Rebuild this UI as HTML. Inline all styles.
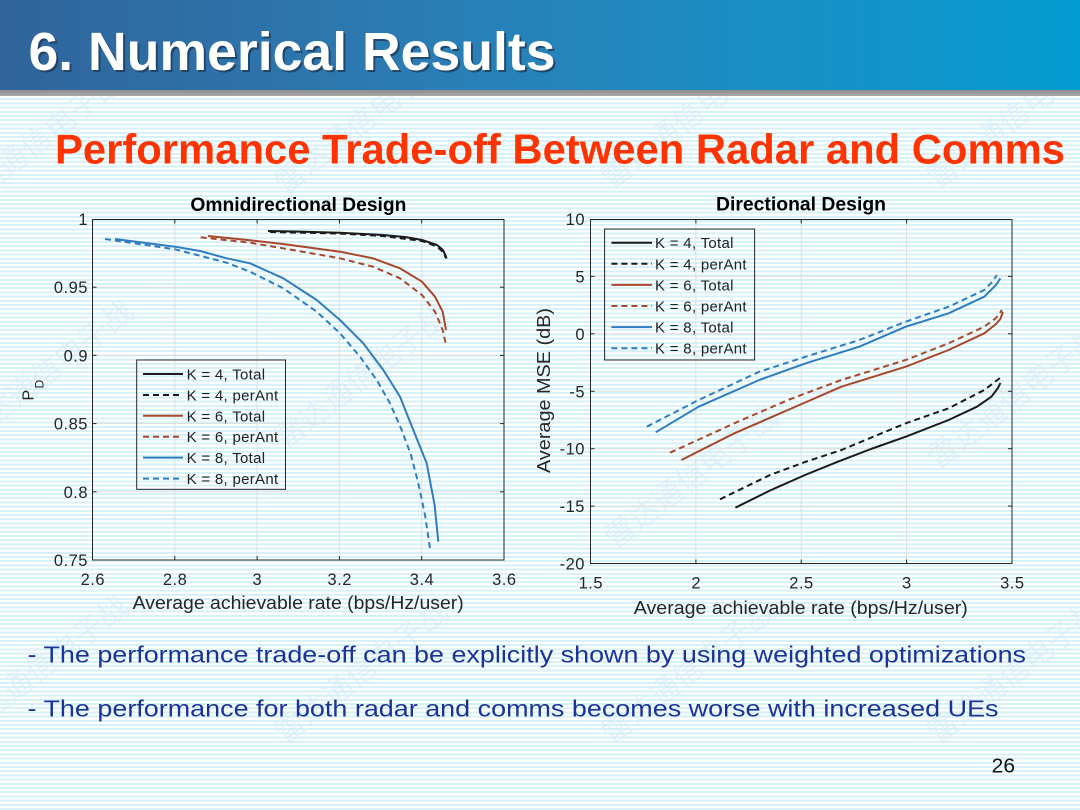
<!DOCTYPE html>
<html>
<head>
<meta charset="utf-8">
<style>
  html,body{margin:0;padding:0;}
  body{width:1080px;height:810px;overflow:hidden;position:relative;background:#fff;font-family:"Liberation Sans",Arial,sans-serif;}
  #bg{position:absolute;left:0;top:96px;width:1080px;height:714px;background:repeating-linear-gradient(to bottom,#ffffff 0px,#ffffff 2.2px,#d6f1f8 2.2px,#d6f1f8 4.2px);}
  svg{position:absolute;left:0;top:0;}
  #hdr{position:absolute;left:0;top:0;width:1080px;height:90px;background:linear-gradient(90deg,#30649a 0%,#2b7db5 40%,#1a8fc4 70%,#049bd0 100%);}
  #bar{position:absolute;left:0;top:90px;width:1080px;height:6px;background:linear-gradient(#8e8e8e,#a8a8a8);}
  #ttl{position:absolute;left:0;top:0;}
</style>
</head>
<body>
<div id="bg"></div>
<svg width="1080" height="810" viewBox="0 0 1080 810" xmlns="http://www.w3.org/2000/svg">
  <defs>
    <clipPath id="below"><rect x="0" y="96" width="1080" height="714"/></clipPath>
  </defs>
  <!-- watermarks -->
  <g clip-path="url(#below)" font-family="'Liberation Sans','Noto Sans CJK SC',sans-serif" font-size="30" fill="#d3eaf6" opacity="0.55">
    <text transform="translate(-40,215) rotate(-38)">雷达通信电子战</text>
    <text transform="translate(285,195) rotate(-38)">雷达通信电子战</text>
    <text transform="translate(612,190) rotate(-38)">雷达通信电子战</text>
    <text transform="translate(938,190) rotate(-38)">雷达通信电子战</text>
    <text transform="translate(-30,445) rotate(-38)">雷达通信电子战</text>
    <text transform="translate(285,450) rotate(-38)">雷达通信电子战</text>
    <text transform="translate(615,550) rotate(-38)">雷达通信电子战</text>
    <text transform="translate(938,470) rotate(-38)">雷达通信电子战</text>
    <text transform="translate(-35,740) rotate(-38)">雷达通信电子战</text>
    <text transform="translate(285,745) rotate(-38)">雷达通信电子战</text>
    <text transform="translate(612,745) rotate(-38)">雷达通信电子战</text>
    <text transform="translate(938,745) rotate(-38)">雷达通信电子战</text>
  </g>

  <!-- Subtitle -->
  <text x="55" y="163.3" font-size="41.5" font-weight="bold" fill="#ff3300" textLength="1010" lengthAdjust="spacingAndGlyphs">Performance Trade-off Between Radar and Comms</text>

  <!-- ================= LEFT CHART ================= -->
  <g>
    <g stroke="#dedede" stroke-width="1">
      <line x1="174.8" y1="219" x2="174.8" y2="560"/>
      <line x1="257.1" y1="219" x2="257.1" y2="560"/>
      <line x1="339.4" y1="219" x2="339.4" y2="560"/>
      <line x1="421.7" y1="219" x2="421.7" y2="560"/>
      <line x1="92.5" y1="287.2" x2="504" y2="287.2"/>
      <line x1="92.5" y1="355.4" x2="504" y2="355.4"/>
      <line x1="92.5" y1="423.6" x2="504" y2="423.6"/>
      <line x1="92.5" y1="491.8" x2="504" y2="491.8"/>
    </g>
    <rect x="92.5" y="219.5" width="411.5" height="340.5" fill="none" stroke="#262626" stroke-width="1"/>
    <g stroke="#262626" stroke-width="1">
      <line x1="174.8" y1="560" x2="174.8" y2="556"/><line x1="257.1" y1="560" x2="257.1" y2="556"/>
      <line x1="339.4" y1="560" x2="339.4" y2="556"/><line x1="421.7" y1="560" x2="421.7" y2="556"/>
      <line x1="174.8" y1="219.5" x2="174.8" y2="223.5"/><line x1="257.1" y1="219.5" x2="257.1" y2="223.5"/>
      <line x1="339.4" y1="219.5" x2="339.4" y2="223.5"/><line x1="421.7" y1="219.5" x2="421.7" y2="223.5"/>
      <line x1="92.5" y1="287.2" x2="96.5" y2="287.2"/><line x1="92.5" y1="355.4" x2="96.5" y2="355.4"/>
      <line x1="92.5" y1="423.6" x2="96.5" y2="423.6"/><line x1="92.5" y1="491.8" x2="96.5" y2="491.8"/>
      <line x1="504" y1="287.2" x2="500" y2="287.2"/><line x1="504" y1="355.4" x2="500" y2="355.4"/>
      <line x1="504" y1="423.6" x2="500" y2="423.6"/><line x1="504" y1="491.8" x2="500" y2="491.8"/>
    </g>
    <g font-size="16.5" fill="#262626" letter-spacing="0.5" text-anchor="end">
      <text x="88" y="225">1</text>
      <text x="88" y="293.2">0.95</text>
      <text x="88" y="361.4">0.9</text>
      <text x="88" y="429.6">0.85</text>
      <text x="88" y="497.8">0.8</text>
      <text x="88" y="566">0.75</text>
    </g>
    <g font-size="16.5" fill="#262626" letter-spacing="0.5" text-anchor="middle">
      <text x="92.8" y="585">2.6</text>
      <text x="175.1" y="585">2.8</text>
      <text x="257.4" y="585">3</text>
      <text x="339.7" y="585">3.2</text>
      <text x="422" y="585">3.4</text>
      <text x="504.3" y="585">3.6</text>
    </g>
    <text x="298.4" y="211" font-size="19" font-weight="bold" fill="#000" text-anchor="middle" textLength="216" lengthAdjust="spacingAndGlyphs">Omnidirectional Design</text>
    <text x="298.2" y="609" font-size="18" fill="#262626" text-anchor="middle" textLength="331" lengthAdjust="spacingAndGlyphs">Average achievable rate (bps/Hz/user)</text>
    <text transform="translate(33.5,400.5) rotate(-90)" font-size="16" fill="#262626">P</text>
    <text transform="translate(43.5,388.5) rotate(-90)" font-size="12" fill="#262626">D</text>

    <g fill="none" stroke-width="2" stroke-linejoin="round" stroke-linecap="butt">
      <polyline stroke="#1b1b1b" points="268,231 300,231.6 340,232.7 383,235 405,237 422,240 437,245 443,250 446,256.7 446.5,258.5"/>
      <polyline stroke="#1b1b1b" stroke-dasharray="6,4" points="270,232 340,233.6 383,236 422,241 437,246.5 443,252 446,258"/>
      <polyline stroke="#a8472a" points="208,236 250,240.2 283,244 340,251.7 373,258.3 400,268.3 422,281.7 435,296.7 442.7,311.7 446,330"/>
      <polyline stroke="#a8472a" stroke-dasharray="6,4" points="200.7,237.3 250,242.7 283,248.3 340,258.3 373,266.7 400,278.3 422,295 435,311.7 442.7,330 446,345"/>
      <polyline stroke="#2f7dbf" points="115,239 175,246.7 200,251 226.7,258.3 250,263.3 283.3,278.3 316.7,300 340,320 363.3,343.3 383.3,370 400,396.7 413.3,430 426.7,463.3 434.6,505 438.3,541.7"/>
      <polyline stroke="#2f7dbf" stroke-dasharray="6,4" points="105,239 175,249.3 226.7,262.7 250,271.7 283.3,288.3 316.7,311.7 340,333.3 360,356.7 376.7,380 390,403.3 401.7,430 411,455 418.3,483.3 425,515 430,548.3"/>
    </g>

    <rect x="136.7" y="360" width="148.8" height="129.3" fill="none" stroke="#262626" stroke-width="1"/>
    <g stroke-width="2" fill="none">
      <line x1="143" y1="374" x2="183" y2="374" stroke="#1b1b1b"/>
      <line x1="143" y1="395" x2="183" y2="395" stroke="#1b1b1b" stroke-dasharray="6,4"/>
      <line x1="143" y1="415.8" x2="183" y2="415.8" stroke="#a8472a"/>
      <line x1="143" y1="436.7" x2="183" y2="436.7" stroke="#a8472a" stroke-dasharray="6,4"/>
      <line x1="143" y1="457.6" x2="183" y2="457.6" stroke="#2f7dbf"/>
      <line x1="143" y1="478.6" x2="183" y2="478.6" stroke="#2f7dbf" stroke-dasharray="6,4"/>
    </g>
    <g font-size="15" fill="#222" letter-spacing="0.3">
      <text x="186.6" y="379.5">K = 4, Total</text>
      <text x="186.6" y="400.5">K = 4, perAnt</text>
      <text x="186.6" y="421.3">K = 6, Total</text>
      <text x="186.6" y="442.2">K = 6, perAnt</text>
      <text x="186.6" y="463.1">K = 8, Total</text>
      <text x="186.6" y="484.1">K = 8, perAnt</text>
    </g>
  </g>

  <!-- ================= RIGHT CHART ================= -->
  <g>
    <g stroke="#dedede" stroke-width="1">
      <line x1="695.9" y1="219" x2="695.9" y2="563.5"/>
      <line x1="801.25" y1="219" x2="801.25" y2="563.5"/>
      <line x1="906.6" y1="219" x2="906.6" y2="563.5"/>
      <line x1="590.5" y1="276.4" x2="1012" y2="276.4"/>
      <line x1="590.5" y1="333.8" x2="1012" y2="333.8"/>
      <line x1="590.5" y1="391.3" x2="1012" y2="391.3"/>
      <line x1="590.5" y1="448.7" x2="1012" y2="448.7"/>
      <line x1="590.5" y1="506.1" x2="1012" y2="506.1"/>
    </g>
    <rect x="590.5" y="219.5" width="421.5" height="344" fill="none" stroke="#262626" stroke-width="1"/>
    <g stroke="#262626" stroke-width="1">
      <line x1="695.9" y1="563.5" x2="695.9" y2="559.5"/><line x1="801.25" y1="563.5" x2="801.25" y2="559.5"/>
      <line x1="906.6" y1="563.5" x2="906.6" y2="559.5"/>
      <line x1="695.9" y1="219.5" x2="695.9" y2="223.5"/><line x1="801.25" y1="219.5" x2="801.25" y2="223.5"/>
      <line x1="906.6" y1="219.5" x2="906.6" y2="223.5"/>
      <line x1="590.5" y1="276.4" x2="594.5" y2="276.4"/><line x1="590.5" y1="333.8" x2="594.5" y2="333.8"/>
      <line x1="590.5" y1="391.3" x2="594.5" y2="391.3"/><line x1="590.5" y1="448.7" x2="594.5" y2="448.7"/>
      <line x1="590.5" y1="506.1" x2="594.5" y2="506.1"/>
      <line x1="1012" y1="276.4" x2="1008" y2="276.4"/><line x1="1012" y1="333.8" x2="1008" y2="333.8"/>
      <line x1="1012" y1="391.3" x2="1008" y2="391.3"/><line x1="1012" y1="448.7" x2="1008" y2="448.7"/>
      <line x1="1012" y1="506.1" x2="1008" y2="506.1"/>
    </g>
    <g font-size="16.5" fill="#262626" letter-spacing="0.5" text-anchor="end">
      <text x="585" y="225">10</text>
      <text x="585" y="282.4">5</text>
      <text x="585" y="339.8">0</text>
      <text x="585" y="397.3">-5</text>
      <text x="585" y="454.7">-10</text>
      <text x="585" y="512.1">-15</text>
      <text x="585" y="569.5">-20</text>
    </g>
    <g font-size="16.5" fill="#262626" letter-spacing="0.5" text-anchor="middle">
      <text x="590.8" y="588.5">1.5</text>
      <text x="696.2" y="588.5">2</text>
      <text x="801.5" y="588.5">2.5</text>
      <text x="906.9" y="588.5">3</text>
      <text x="1012.3" y="588.5">3.5</text>
    </g>
    <text x="801" y="210.7" font-size="19" font-weight="bold" fill="#000" text-anchor="middle" textLength="170" lengthAdjust="spacingAndGlyphs">Directional Design</text>
    <text x="800.8" y="614" font-size="18" fill="#262626" text-anchor="middle" textLength="334" lengthAdjust="spacingAndGlyphs">Average achievable rate (bps/Hz/user)</text>
    <text transform="translate(550,390.5) rotate(-90)" font-size="18" fill="#262626" text-anchor="middle" textLength="165" lengthAdjust="spacingAndGlyphs">Average MSE (dB)</text>

    <g fill="none" stroke-width="2" stroke-linejoin="round">
      <polyline stroke="#1b1b1b" points="735.4,507.7 770,490.5 805,475 837.9,461.7 871,449 905.7,436.7 948.6,420 977,406.7 991.4,396.7 998,388 1000.4,383"/>
      <polyline stroke="#1b1b1b" stroke-dasharray="6,4" points="720,499.3 770,475 805,462 841.4,450 905.7,423.3 948.6,408.3 984.3,390 996,381 1000.4,377.7"/>
      <polyline stroke="#a8472a" points="681.4,460 734.3,433.3 787.9,410 841.4,386.7 905.7,366.7 948.6,350 984.3,333.3 996,324 1000.4,319 1002.9,312"/>
      <polyline stroke="#a8472a" stroke-dasharray="6,4" points="670,452.7 734.3,423.3 788,400 841.4,380 905.7,360 948.6,343.3 984.3,326.7 996,318 1002,310"/>
      <polyline stroke="#2f7dbf" points="655.7,432.3 698.6,406.7 759.3,380 805.7,363.3 859.3,346.7 905.7,326.7 948.6,313.3 984.3,296.7 996,285 1000.4,278.3"/>
      <polyline stroke="#2f7dbf" stroke-dasharray="6,4" points="646.8,426.7 698.6,400 759.3,371.7 805.7,356.7 859.3,340 905.7,321.7 948.6,306.7 984.3,290 993,281 996.8,275"/>
    </g>

    <rect x="604.6" y="229" width="150" height="131" fill="none" stroke="#262626" stroke-width="1"/>
    <g stroke-width="2" fill="none">
      <line x1="611.4" y1="242.7" x2="652" y2="242.7" stroke="#1b1b1b"/>
      <line x1="611.4" y1="263.8" x2="652" y2="263.8" stroke="#1b1b1b" stroke-dasharray="6,4"/>
      <line x1="611.4" y1="284.9" x2="652" y2="284.9" stroke="#a8472a"/>
      <line x1="611.4" y1="306" x2="652" y2="306" stroke="#a8472a" stroke-dasharray="6,4"/>
      <line x1="611.4" y1="327.1" x2="652" y2="327.1" stroke="#2f7dbf"/>
      <line x1="611.4" y1="348.2" x2="652" y2="348.2" stroke="#2f7dbf" stroke-dasharray="6,4"/>
    </g>
    <g font-size="15" fill="#222" letter-spacing="0.3">
      <text x="655" y="248.2">K = 4, Total</text>
      <text x="655" y="269.3">K = 4, perAnt</text>
      <text x="655" y="290.4">K = 6, Total</text>
      <text x="655" y="311.5">K = 6, perAnt</text>
      <text x="655" y="332.6">K = 8, Total</text>
      <text x="655" y="353.7">K = 8, perAnt</text>
    </g>
  </g>

  <!-- Bullets -->
  <text x="27.5" y="662.7" font-size="23" fill="#1a3399" textLength="998.5" lengthAdjust="spacingAndGlyphs">- The performance trade-off can be explicitly shown by using weighted optimizations</text>
  <text x="27.5" y="716.7" font-size="23" fill="#1a3399" textLength="971" lengthAdjust="spacingAndGlyphs">- The performance for both radar and comms becomes worse with increased UEs</text>

  <text x="991.7" y="772.7" font-size="20" fill="#111" textLength="23.3" lengthAdjust="spacingAndGlyphs">26</text>
</svg>
<div id="hdr"></div>
<div id="bar"></div>
<svg id="ttl" width="1080" height="96" viewBox="0 0 1080 96" xmlns="http://www.w3.org/2000/svg">
  <text x="30.5" y="72" font-size="54" font-weight="bold" fill="#1c3856" opacity="0.75" textLength="527" lengthAdjust="spacingAndGlyphs">6. Numerical Results</text>
  <text x="28.5" y="70" font-size="54" font-weight="bold" fill="#ffffff" textLength="527" lengthAdjust="spacingAndGlyphs">6. Numerical Results</text>
</svg>
</body>
</html>
